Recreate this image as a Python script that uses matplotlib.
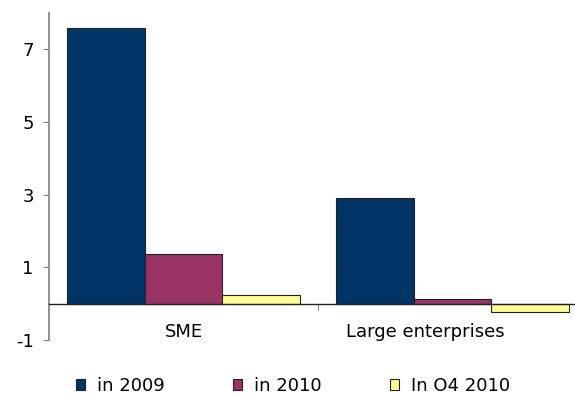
import matplotlib
matplotlib.use("Agg")
import matplotlib.pyplot as plt
import numpy as np

categories = ["SME", "Large enterprises"]
series_names = ["in 2009", "in 2010", "In O4 2010"]
in_2009 = [7.6, 2.9]
in_2010 = [1.38, 0.12]
in_q4_2010 = [0.24, -0.22]
colors = ["#003366", "#993366", "#FFFF99"]

plt.rcParams["font.family"] = ["DejaVu Sans"]
plt.rcParams["axes.unicode_minus"] = False

fig = plt.figure(figsize=(5.75, 3.94), dpi=100)
ax = fig.add_axes([49 / 575, 1 - 340 / 394, 1 - 49 / 575, (340 - 13) / 394])

x = np.arange(len(categories))
w = 0.288
for i, (vals, name, c) in enumerate(zip([in_2009, in_2010, in_q4_2010], series_names, colors)):
    ax.bar(x + (i - 1) * w, vals, w, color=c, edgecolor="#222222", linewidth=0.8, label=name)

ax.set_xlim(-0.5, 526 / 269 - 0.5)
ax.set_ylim(-1, 8)
ax.set_yticks([-1, 1, 3, 5, 7])
ax.tick_params(axis="y", length=4, color="#808080", labelsize=13, pad=7)

ax.spines["top"].set_visible(False)
ax.spines["right"].set_visible(False)
ax.spines["left"].set_color("#808080")
ax.spines["left"].set_linewidth(1.2)
ax.spines["bottom"].set_position(("data", 0))
ax.spines["bottom"].set_color("#222222")
ax.spines["bottom"].set_linewidth(1.0)

# category boundary tick, labels on minor ticks (second label sits left of its group, as in the original)
ax.set_xticks([0.5])
ax.set_xticklabels([""])
ax.set_xticks([0, 0.9], minor=True)
ax.set_xticklabels(categories, minor=True)
ax.tick_params(axis="x", which="major", length=4, color="#808080")
ax.tick_params(axis="x", which="minor", length=0, labelsize=13, pad=14)

fig.legend(loc="center", bbox_to_anchor=(0.51, 1 - 386 / 394), ncol=3, frameon=False,
           fontsize=13, handlelength=0.5, handleheight=0.5, columnspacing=3.8,
           handletextpad=0.65, borderpad=0, borderaxespad=0)

fig.savefig("out.png", dpi=100)
